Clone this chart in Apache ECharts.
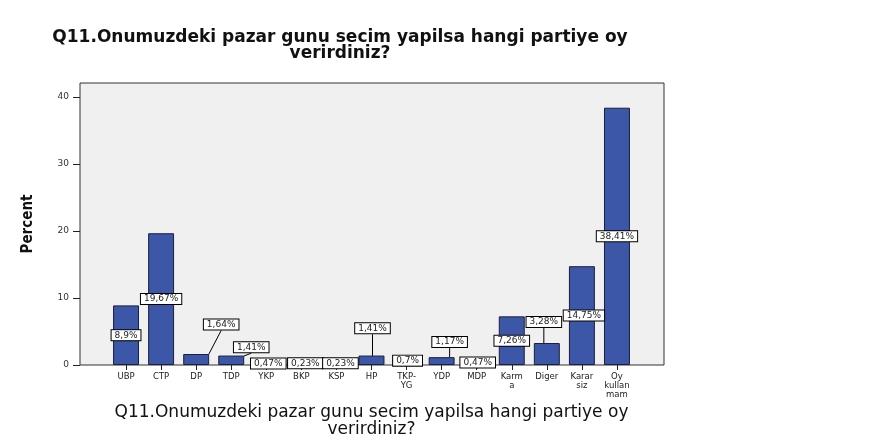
<!DOCTYPE html>
<html>
<head>
<meta charset="utf-8">
<title>Q11</title>
<script src="https://cdn.jsdelivr.net/npm/echarts@6/dist/echarts.min.js"></script>
<style>
    html, body { margin: 0; padding: 0; background: #fff; }
    #main { width: 880px; height: 440px; }
</style>
</head>
<body>
<div id="main"></div>
<script>
    // chart data
    var categories = ['UBP', 'CTP', 'DP', 'TDP', 'YKP', 'BKP', 'KSP', 'HP', 'TKP-\nYG', 'YDP', 'MDP', 'Karm\na', 'Diger', 'Karar\nsiz', 'Oy\nkullan\nmam'];
    var percents = [8.9, 19.67, 1.64, 1.41, 0.47, 0.23, 0.23, 1.41, 0.7, 1.17, 0.47, 7.26, 3.28, 14.75, 38.41];
    var yTicks = [0, 10, 20, 30, 40];
    var questionText = 'Q11.Onumuzdeki pazar gunu secim yapilsa hangi partiye oy\nverirdiniz?';
    var yName = 'Percent';

    // where SPSS pushed the value boxes (px offsets from the bar middle)
    var labelNudge = [[0, 0], [0, 0], [25, -35], [20, -13], [2, 0], [4, -1], [4, -1], [1, -32],
        [1, -2], [8, -19], [1, -1], [0, 0], [-3, -32], [2, 0], [0, 0]];

    var yMax = 42.1;
    var myChart = echarts.init(document.getElementById('main'));

    var option = {
        backgroundColor: '#fff',
        animation: false,
        graphic: [{
            type: 'text',
            x: 340,
            y: 30,
            style: {
                text: questionText,
                align: 'center',
                verticalAlign: 'top',
                fontFamily: 'DejaVu Sans',
                fontWeight: 'bold',
                fontSize: 17,
                lineHeight: 16,
                fill: '#111'
            }
        }],
        grid: [
            { left: 80, right: 216, top: 83, bottom: 75, outerBoundsMode: 'none', show: true, backgroundColor: '#f0f0f0', borderColor: '#333', borderWidth: 1 },
            { left: 108.5, right: 245.5, top: 83, bottom: 75, outerBoundsMode: 'none' }
        ],
        xAxis: [
            { type: 'value', gridIndex: 0, show: false },
            {
                type: 'category',
                gridIndex: 1,
                data: categories,
                name: questionText,
                nameLocation: 'middle',
                nameGap: 39,
                nameTextStyle: { fontFamily: 'DejaVu Sans', fontSize: 17, lineHeight: 17, color: '#111' },
                axisLine: { show: false },
                axisTick: { show: true, alignWithLabel: true, length: 5, lineStyle: { color: '#222' } },
                axisLabel: { interval: 0, margin: 7, fontFamily: 'DejaVu Sans', fontSize: 8.5, lineHeight: 9, color: '#222' }
            }
        ],
        yAxis: [
            {
                type: 'value',
                gridIndex: 0,
                min: 0,
                max: yMax,
                interval: 10,
                name: yName,
                nameLocation: 'middle',
                nameRotate: 90,
                nameGap: 44,
                nameTextStyle: { fontFamily: 'DejaVu Sans Condensed', fontWeight: 'bold', fontSize: 15, color: '#111' },
                axisLine: { show: false },
                axisTick: { show: true, length: 7, customValues: yTicks, lineStyle: { color: '#222' } },
                axisLabel: { customValues: yTicks, margin: 11, fontFamily: 'DejaVu Sans', fontSize: 9, color: '#333' },
                splitLine: { show: false }
            },
            { type: 'value', gridIndex: 1, min: 0, max: yMax, show: false }
        ],
        series: [{
            name: 'Percent',
            type: 'bar',
            xAxisIndex: 1,
            yAxisIndex: 1,
            data: percents,
            barWidth: '74%',
            itemStyle: { color: '#3c56a8', borderColor: '#1c1f3a', borderWidth: 1 },
            label: {
                show: true,
                position: 'inside',
                formatter: function (p) {
                    return String(p.value).replace('.', ',') + '%';
                },
                fontFamily: 'DejaVu Sans',
                fontSize: 9,
                color: '#222',
                backgroundColor: '#fff',
                borderColor: '#000',
                borderWidth: 1,
                padding: [1, 3, 0, 3]
            },
            labelLayout: function (params) {
                var n = labelNudge[params.dataIndex];
                return { dx: n[0], dy: n[1] };
            },
            labelLine: { show: true, lineStyle: { color: '#000', width: 1 } }
        }]
    };

    myChart.setOption(option);
    window.myChart = myChart;
</script>
</body>
</html>
